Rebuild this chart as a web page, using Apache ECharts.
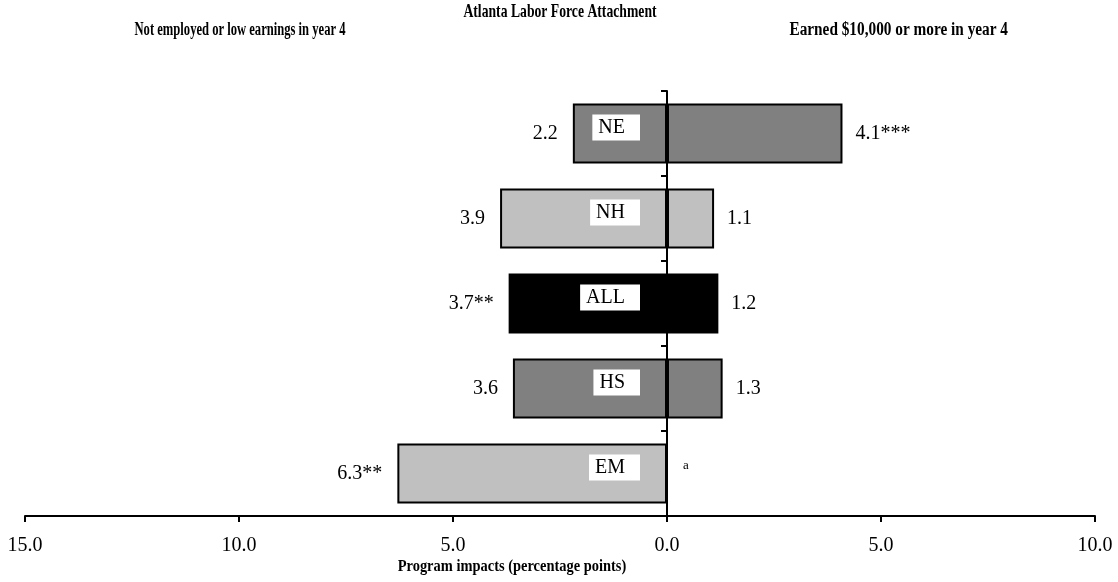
<!DOCTYPE html>
<html>
<head>
<meta charset="utf-8">
<script src="https://cdn.jsdelivr.net/npm/echarts@6/dist/echarts.min.js"></script>
<style>
  html, body { margin: 0; padding: 0; background: #fff; }
  #chart { width: 1118px; height: 582px; }
</style>
</head>
<body>
<div id="chart"></div>
<script>
// subgroups, top to bottom
const categories = ["NE", "NH", "ALL", "HS", "EM"];
// left side: not employed or low earnings (drawn as negative)
const lowValues = [-2.2, -3.9, -3.7, -3.6, -6.3];
const lowLabels = ["2.2", "3.9", "3.7**", "3.6", "6.3**"];
// right side: earned $10,000 or more
const highValues = [4.1, 1.1, 1.2, 1.3, 0];
const highLabels = ["4.1***", "1.1", "1.2", "1.3", "a"];
const barColors = ["#808080", "#c0c0c0", "#000000", "#808080", "#c0c0c0"];

const serif = "'Liberation Serif', 'DejaVu Serif', serif";

const chart = echarts.init(document.getElementById("chart"));

const barStyle = (i) => ({
  color: barColors[i],
  borderColor: "#000",
  borderWidth: 2,
});

// condensed bold headings (the original uses a narrow bold face)
const heading = (text, x, y, align, size, sx) => ({
  type: "text",
  x: x,
  y: y,
  scaleX: sx,
  z: 10,
  style: {
    text: text,
    align: align,
    verticalAlign: "middle",
    fontFamily: serif,
    fontSize: size,
    fontWeight: "bold",
    fill: "#000",
  },
});

const option = {
  animation: false,
  backgroundColor: "#fff",
  textStyle: { fontFamily: serif, color: "#000" },
  graphic: [
    heading("Atlanta Labor Force Attachment", 560, 12, "center", 19, 0.72),
    heading("Not employed or low earnings in year 4", 240, 30, "center", 18, 0.7),
    heading("Earned $10,000 or more in year 4", 1008, 30, "right", 18, 0.85),
    heading("Program impacts (percentage points)", 512, 567, "center", 17, 0.85),
  ],
  grid: { left: 25, right: 23, top: 91, bottom: 66 },
  xAxis: {
    type: "value",
    min: -15,
    max: 10,
    interval: 5,
    splitLine: { show: false },
    axisLine: { show: true, lineStyle: { color: "#000", width: 2 } },
    axisTick: { show: true, length: 6, lineStyle: { color: "#000", width: 2 } },
    axisLabel: {
      margin: 20,
      fontFamily: serif,
      fontSize: 20,
      color: "#000",
      formatter: (v) => Math.abs(v).toFixed(1),
    },
  },
  yAxis: {
    type: "category",
    data: categories,
    inverse: true,
    z: 5,
    axisLine: { show: true, onZero: true, lineStyle: { color: "#000", width: 2 } },
    axisTick: { show: true, length: 6, lineStyle: { color: "#000", width: 2 } },
    axisLabel: { show: false },
  },
  series: [
    {
      name: "low",
      type: "bar",
      barWidth: 60,
      barGap: "-100%",
      data: lowValues.map((v, i) => ({ value: v, itemStyle: barStyle(i) })),
      label: {
        show: true,
        position: "left",
        distance: 15,
        fontFamily: serif,
        fontSize: 20,
        color: "#000",
        formatter: (p) => lowLabels[p.dataIndex],
      },
    },
    {
      name: "high",
      type: "bar",
      barWidth: 60,
      barGap: "-100%",
      data: highValues.map((v, i) => ({
        value: v,
        itemStyle: barStyle(i),
        label: highLabels[i] === "a" ? { fontSize: 13, offset: [2, -8] } : {},
      })),
      label: {
        show: true,
        position: "right",
        distance: 13,
        fontFamily: serif,
        fontSize: 20,
        color: "#000",
        formatter: (p) => highLabels[p.dataIndex],
      },
    },
    {
      // white name tags inside the left bars
      name: "tag",
      type: "bar",
      barWidth: 60,
      barGap: "-100%",
      silent: true,
      data: lowValues,
      itemStyle: { color: "transparent", borderWidth: 0 },
      label: {
        show: true,
        position: "insideRight",
        distance: 27,
        offset: [0, -6],
        fontFamily: serif,
        fontSize: 20,
        color: "#000",
        backgroundColor: "#fff",
        padding: [4, 15, 2, 6],
        formatter: (p) => categories[p.dataIndex],
      },
    },
  ],
};

chart.setOption(option);
</script>
</body>
</html>
